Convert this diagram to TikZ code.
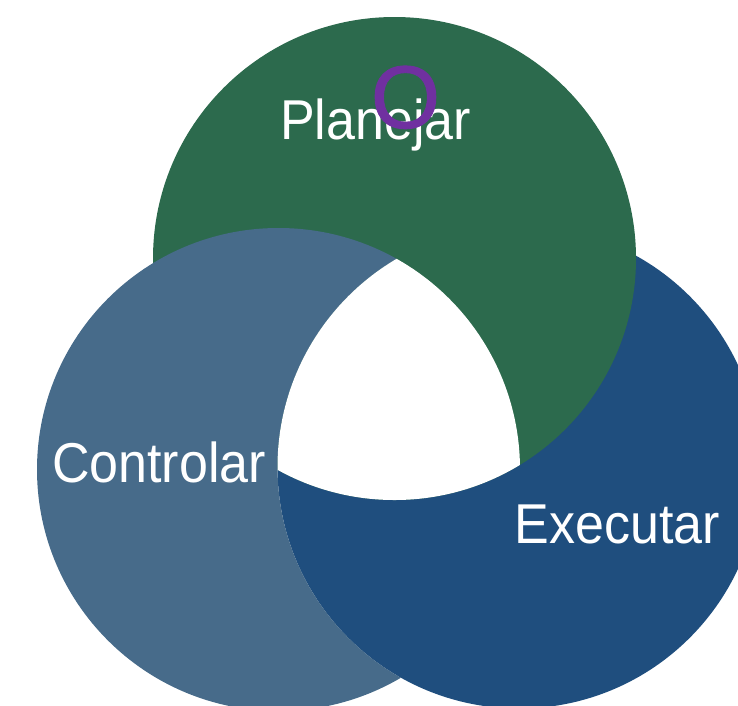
\documentclass[tikz,border=0pt]{standalone}
\usepackage{fontspec}
\setmainfont{Liberation Sans}
\newfontfamily\markfont[FakeBold=1]{Liberation Sans}
\definecolor{cgreen}{RGB}{44,106,77}
\definecolor{cgray}{RGB}{71,107,138}
\definecolor{cblue}{RGB}{31,78,126}
\definecolor{cpurple}{RGB}{112,48,160}
\tikzset{
  lbl/.style={text=white,font=\fontsize{52}{60}\selectfont,anchor=base,inner sep=0pt},
  mk/.style={text=cpurple,font=\markfont\fontsize{89}{96}\selectfont,anchor=base,inner sep=0pt}
}
\begin{document}
\begin{tikzpicture}[x=1pt,y=-1pt]
\useasboundingbox (0,0) rectangle (738,705);
\clip (0,0) rectangle (738,705);
\coordinate (G) at (394.5,258.5);
\coordinate (L) at (278.5,469.5);
\coordinate (R) at (519,467);
\def\rad{241.5pt}
\fill[cblue] (R) circle[radius=\rad];
\fill[cgreen] (G) circle[radius=\rad];
\begin{scope}[even odd rule]
  \clip (-20,-20) rectangle (760,725) (R) circle[radius=\rad];
  \fill[cgray] (L) circle[radius=\rad];
\end{scope}
\begin{scope}
  \clip (R) circle[radius=\rad];
  \clip (L) circle[radius=\rad];
  \fill[white] (G) circle[radius=\rad];
\end{scope}
\node[lbl] (plan) at (375.5,139) {\scalebox{1}[1.08]{Planejar}};
\node[lbl] (ctrl) at (159,482) {\scalebox{1}[1.08]{Controlar}};
\node[lbl] (exec) at (617.5,543) {\scalebox{1}[1.08]{Executar}};
\node[mk] (mark) at (405.5,128) {O};
\end{tikzpicture}
\end{document}
